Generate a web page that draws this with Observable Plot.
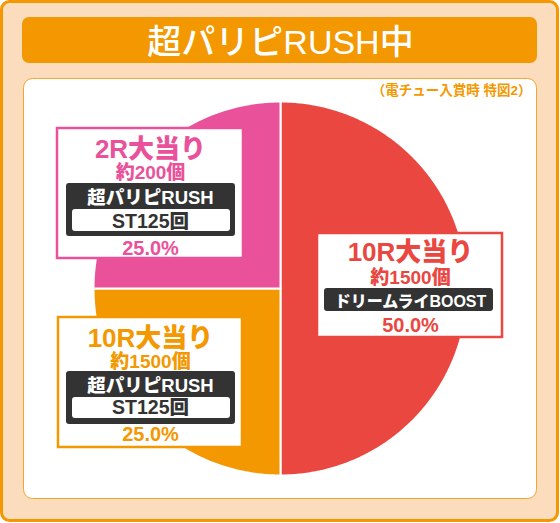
<!DOCTYPE html>
<html><head><meta charset="utf-8">
<script src="https://cdn.jsdelivr.net/npm/d3@7"></script>
<script src="https://cdn.jsdelivr.net/npm/@observablehq/plot@0.6"></script>
<style>html,body{margin:0;padding:0;background:#fff;} svg{display:block}</style>
</head><body><div id="chart"></div>
<script>
// ---- data ----
const title = "超パリピRUSH中";
const note = "（電チュー入賞時 特図2）";
const categories = ["10R大当り", "10R大当り", "2R大当り"];
const payouts = ["約1500個", "約1500個", "約200個"];
const modes = ["ドリームライBOOST", "超パリピRUSH", "超パリピRUSH"];
const stLabels = [null, "ST125回", "ST125回"];
const shares = [50.0, 25.0, 25.0];
const colors = ["#E9473F", "#F39800", "#E9529A"];

// ---- layout ----
const W = 560, H = 523;
const CX = 280, CY = 288, R = 187;
const FONT = "'Liberation Sans', 'Noto Sans CJK JP', sans-serif";
const boxLayout = [
  {x1: 317, y1: 233, x2: 502, y2: 337, cx: 410, t: 260, p: 283, b: [324, 493, 288, 311], m: 306, w: null, s: null, pc: 331},
  {x1: 58, y1: 317, x2: 242, y2: 447, cx: 150, t: 346, p: 367, b: [66, 235, 371, 424], m: 391, w: [72, 230, 397, 418], s: 413, pc: 440},
  {x1: 57, y1: 128, x2: 243, y2: 258, cx: 150, t: 157, p: 178, b: [66, 235, 183, 236], m: 203, w: [72, 230, 209, 231], s: 227, pc: 254}
];
const idx = d3.range(shares.length);

// pie slices via d3.pie
const arcs = d3.pie().sort(null).value(d => d)(shares);
const sliceMarks = arcs.map((a, i) => {
  const pts = [{x: CX, y: CY}];
  const n = Math.ceil((a.endAngle - a.startAngle) / 0.01);
  for (let k = 0; k <= n; k++) {
    const t = a.startAngle + (a.endAngle - a.startAngle) * k / n;
    pts.push({x: CX + R * Math.sin(t), y: CY - R * Math.cos(t)});
  }
  return Plot.line(pts, {x: "x", y: "y", curve: "linear-closed", fill: colors[i], stroke: "white", strokeWidth: 2});
});

const withW = idx.filter(i => boxLayout[i].w);
const withS = idx.filter(i => stLabels[i]);

const chart = Plot.plot({
  width: W, height: H, margin: 0,
  x: {domain: [0, W], range: [0, W], axis: null},
  y: {domain: [0, H], range: [0, H], axis: null},
  color: {type: "identity"},
  style: {background: "white", fontFamily: FONT},
  marks: [
    // outer frame
    Plot.rect([0], {x1: 1.5, x2: 557.5, y1: 1.5, y2: 520.5, fill: "#FBDCBD", stroke: "#F39800", strokeWidth: 3, rx: 8}),
    // title bar
    Plot.rect([0], {x1: 22, x2: 537, y1: 17, y2: 63, fill: "#F39800", rx: 7}),
    Plot.text([title], {x: 280, y: 53, text: d => d, fill: "white", fontSize: 34, fontWeight: 500, fontFamily: FONT, lineAnchor: "bottom"}),
    // inner panel
    Plot.rect([0], {x1: 23.5, x2: 536.5, y1: 78.5, y2: 498.5, fill: "white", stroke: "#F5A533", strokeWidth: 1, rx: 9}),
    Plot.text([note], {x: 531, y: 94, text: d => d, fill: "#F39800", fontSize: 13.5, fontWeight: 700, fontFamily: FONT, textAnchor: "end", lineAnchor: "bottom"}),
    // pie
    ...sliceMarks,
    // label boxes
    Plot.rect(idx, {x1: i => boxLayout[i].x1, x2: i => boxLayout[i].x2, y1: i => boxLayout[i].y1, y2: i => boxLayout[i].y2, fill: "white", stroke: i => colors[i], strokeWidth: 2.5}),
    Plot.rect(idx, {x1: i => boxLayout[i].b[0], x2: i => boxLayout[i].b[1], y1: i => boxLayout[i].b[2], y2: i => boxLayout[i].b[3], fill: "#333333", rx: 3}),
    Plot.rect(withW, {x1: i => boxLayout[i].w[0], x2: i => boxLayout[i].w[1], y1: i => boxLayout[i].w[2], y2: i => boxLayout[i].w[3], fill: "white", rx: 3}),
    Plot.text(idx, {x: i => boxLayout[i].cx, y: i => boxLayout[i].t, text: i => categories[i], fill: i => colors[i], fontSize: 26, fontWeight: 900, fontFamily: FONT, lineAnchor: "bottom"}),
    Plot.text(idx, {x: i => boxLayout[i].cx, y: i => boxLayout[i].p, text: i => payouts[i], fill: i => colors[i], fontSize: 19, fontWeight: 900, fontFamily: FONT, lineAnchor: "bottom"}),
    Plot.text(idx, {x: i => boxLayout[i].cx, y: i => boxLayout[i].m, text: i => modes[i], fill: "white", fontSize: i => (stLabels[i] ? 18.5 : 16), fontWeight: 900, fontFamily: FONT, lineAnchor: "bottom"}),
    Plot.text(withS, {x: i => boxLayout[i].cx, y: i => boxLayout[i].s, text: i => stLabels[i], fill: "#333333", fontSize: 19.5, fontWeight: 900, fontFamily: FONT, lineAnchor: "bottom"}),
    Plot.text(idx, {x: i => boxLayout[i].cx, y: i => boxLayout[i].pc, text: i => shares[i].toFixed(1) + "%", fill: i => colors[i], fontSize: 20, fontWeight: 900, fontFamily: FONT, lineAnchor: "bottom"})
  ]
});
document.getElementById("chart").appendChild(chart);
</script>
</body></html>
